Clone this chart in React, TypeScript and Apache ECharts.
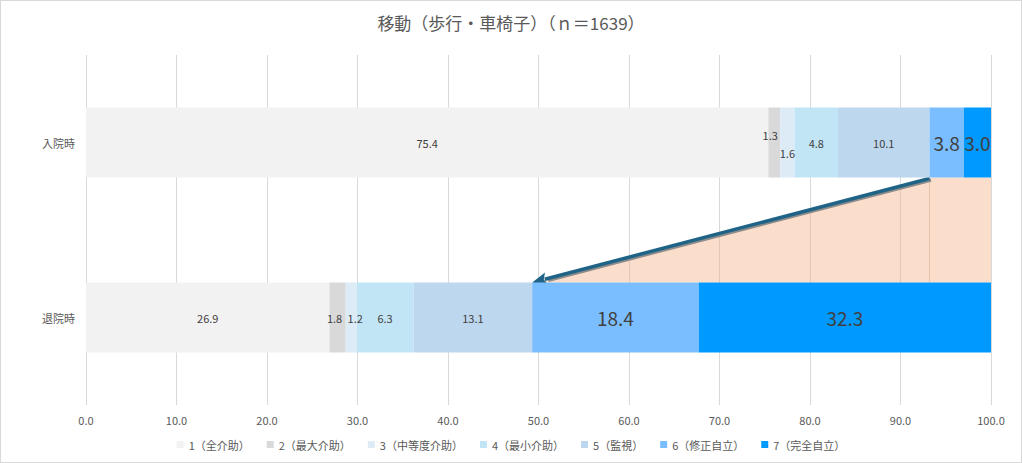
import React, { useEffect, useRef } from 'react';
import * as echarts from 'echarts';

const categories = ['入院時', '退院時'];
const seriesNames = ['1（全介助）', '2（最大介助）', '3（中等度介助）', '4（最小介助）', '5（監視）', '6（修正自立）', '7（完全自立）'];
const level1 = [75.4, 26.9];
const level2 = [1.3, 1.8];
const level3 = [1.6, 1.2];
const level4 = [4.8, 6.3];
const level5 = [10.1, 13.1];
const level6 = [3.8, 18.4];
const level7 = [3.0, 32.3];
const xTicks = [0, 10, 20, 30, 40, 50, 60, 70, 80, 90, 100];
const titleText = '移動（歩行・車椅子）（ｎ＝1639）';

const levels = [level1, level2, level3, level4, level5, level6, level7];
const colors = ['#F2F2F2', '#D9D9D9', '#DDEBF7', '#C2E5F6', '#BDD7EE', '#7BBEFF', '#0099FF'];
const FONT = '"Noto Sans CJK JP", "Noto Sans", sans-serif';

const cum5 = (i: number) => level1[i] + level2[i] + level3[i] + level4[i] + level5[i];

export default function App() {
  const ref = useRef<HTMLDivElement>(null);
  useEffect(() => {
    if (!ref.current) return;
    const chart = echarts.init(ref.current, undefined, { renderer: 'svg' });
    const labelOffsets: Record<string, number[]> = {
      '1-0': [-4, -8],
      '2-0': [0, 10],
      '1-1': [-3, 0],
      '2-1': [4, 0],
    };
    const barSeries = levels.map((vals, si) => ({
      name: seriesNames[si],
      type: 'bar',
      stack: 'total',
      barWidth: '40%',
      itemStyle: { color: colors[si] },
      label: {
        show: true,
        position: 'inside',
        color: '#404040',
        fontFamily: FONT,
        fontSize: si >= 5 ? 19 : 11,
        formatter: (p: any) => Number(p.value).toFixed(1),
      },
      data: vals.map((v, ci) => {
        const off = labelOffsets[`${si}-${ci}`];
        return off ? { value: v, label: { offset: off } } : { value: v };
      }),
    }));

    const customSeries = {
      type: 'custom',
      silent: true,
      z: 1,
      data: [[0, 0]],
      encode: { x: 0, y: 1 },
      renderItem: (params: any, api: any) => {
        const bandH = api.size([0, 1])[1];
        const barH = bandH * 0.4;
        const topY = api.coord([0, 0])[1] + barH / 2;
        const botY = api.coord([0, 1])[1] - barH / 2;
        const xTopL = api.coord([cum5(0), 0])[0];
        const xR = api.coord([100, 0])[0];
        const xBotL = api.coord([cum5(1), 1])[0];
        const x1 = xTopL, y1 = topY + 1;
        const x2 = xBotL, y2 = botY;
        const dx = x2 - x1, dy = y2 - y1;
        const len = Math.sqrt(dx * dx + dy * dy);
        const ux = dx / len, uy = dy / len;
        const px = -uy, py = ux;
        const headL = 15, headW = 6.5;
        const bx = x2 - ux * headL, by = y2 - uy * headL;
        return {
          type: 'group',
          children: [
            {
              type: 'polygon',
              shape: { points: [[xTopL, topY], [xR, topY], [xR, botY], [xBotL, botY]] },
              style: { fill: 'rgba(244,177,131,0.42)' },
            },
            {
              type: 'line',
              shape: { x1: xTopL, y1: topY, x2: xTopL, y2: botY },
              style: { stroke: 'rgba(200,150,130,0.35)', lineWidth: 1 },
            },
            {
              type: 'line',
              shape: { x1: x1 + 1.5, y1: y1 + 1.5, x2: bx + 1.5, y2: by + 1.5 },
              style: { stroke: '#8C8C8C', lineWidth: 3.5 },
            },
            {
              type: 'line',
              shape: { x1, y1, x2: bx + ux * 2, y2: by + uy * 2 },
              style: { stroke: '#1F6386', lineWidth: 3.5 },
            },
            {
              type: 'polygon',
              shape: {
                points: [
                  [x2, y2],
                  [bx + px * headW, by + py * headW],
                  [bx + ux * 3, by + uy * 3],
                  [bx - px * headW, by - py * headW],
                ],
              },
              style: { fill: '#1F6386' },
            },
          ],
        };
      },
    };

    chart.setOption({
      animation: false,
      backgroundColor: '#FFFFFF',
      textStyle: { fontFamily: FONT },
      title: {
        text: titleText,
        left: 'center',
        top: 9,
        textStyle: { fontSize: 17, fontWeight: 'normal', color: '#595959', fontFamily: FONT },
      },
      legend: {
        data: seriesNames,
        bottom: 8,
        left: 'center',
        icon: 'rect',
        itemWidth: 7,
        itemHeight: 7,
        itemGap: 17,
        textStyle: { fontSize: 11, color: '#595959', fontFamily: FONT },
      },
      grid: { left: 86, right: 31, top: 55, bottom: 58, containLabel: false },
      xAxis: {
        type: 'value',
        min: xTicks[0],
        max: xTicks[xTicks.length - 1],
        interval: 10,
        axisLine: { show: false },
        axisTick: { show: false },
        splitLine: { show: true, lineStyle: { color: '#D9D9D9', width: 1 } },
        axisLabel: {
          color: '#595959',
          fontSize: 11,
          margin: 9,
          fontFamily: FONT,
          formatter: (v: number) => v.toFixed(1),
        },
      },
      yAxis: {
        type: 'category',
        data: categories,
        inverse: true,
        axisLine: { show: false },
        axisTick: { show: false },
        axisLabel: { color: '#595959', fontSize: 11, margin: 11, fontFamily: FONT },
      },
      series: [...barSeries, customSeries],
    });
    return () => chart.dispose();
  }, []);

  return (
    <div style={{ position: 'fixed', left: 0, top: 0, width: 1022, height: 463 }}>
      <div ref={ref} style={{ width: 1022, height: 463 }} />
      <div
        style={{
          position: 'absolute',
          left: 0,
          top: 0,
          width: 1022,
          height: 463,
          boxSizing: 'border-box',
          border: '1px solid #D9D9D9',
          pointerEvents: 'none',
        }}
      />
    </div>
  );
}
